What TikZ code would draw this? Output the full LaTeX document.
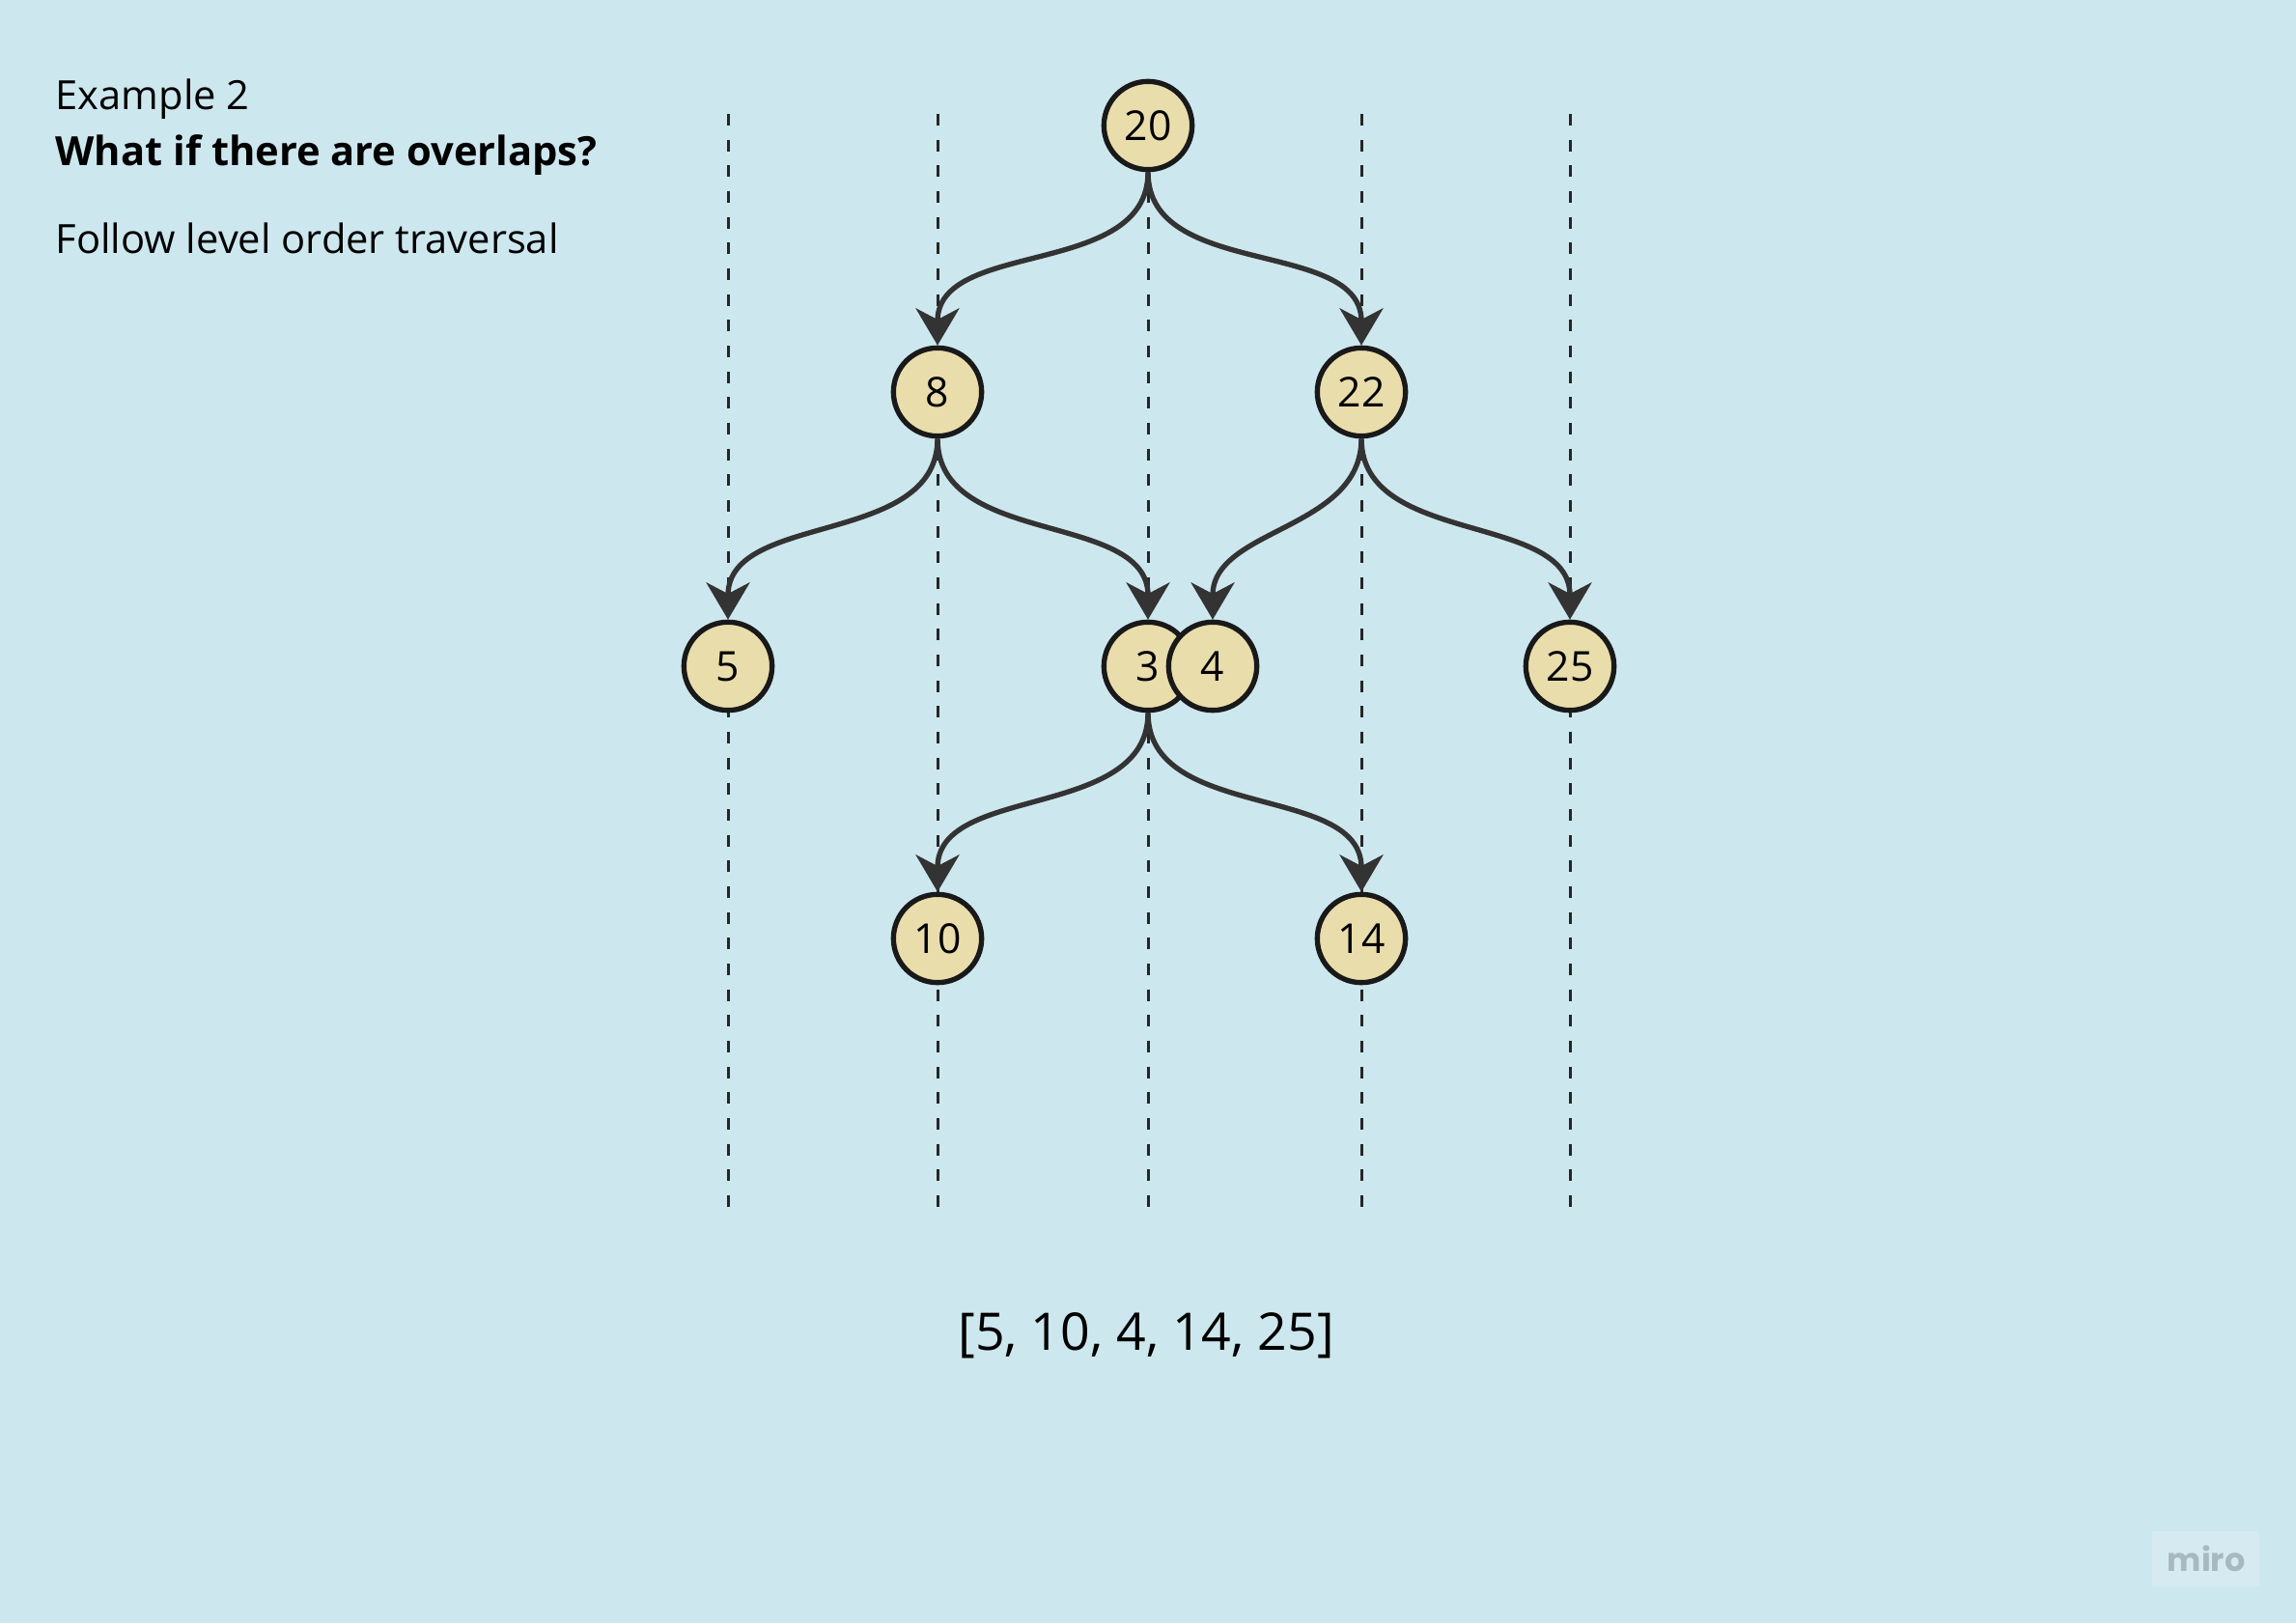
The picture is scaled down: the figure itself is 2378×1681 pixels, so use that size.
\documentclass[tikz,border=0pt]{standalone}
\usepackage{fontspec}
\setmainfont{Open Sans}
\newfontfamily\mirofont{Poppins}
\usetikzlibrary{arrows.meta,positioning}
\definecolor{bgblue}{HTML}{CDE7EE}
\definecolor{nodefill}{HTML}{E8DDAB}
\definecolor{edgegray}{HTML}{333333}
\definecolor{logobox}{HTML}{D5EBF1}
\definecolor{logotext}{HTML}{A8B8C0}
\tikzset{>={Stealth[length=11.5pt,width=13.5pt,inset=3.5pt]},
  treenode/.style={circle, draw=black!90, line width=1.6pt, fill=nodefill,
    minimum size=27.4pt, inner sep=0pt, font=\fontsize{12.8pt}{15pt}\selectfont},
  treeedge/.style={->, draw=edgegray, line width=1.6pt, out=-90, in=90},
  guide/.style={draw=black!85, line width=0.9pt, dash pattern=on 3.6pt off 4.4pt},
  plaintext/.style={anchor=base west, inner sep=0pt, font=\fontsize{12.5pt}{15pt}\selectfont}
}
\begin{document}
\begin{tikzpicture}[x=0.3pt,y=-0.3pt]
            \fill[bgblue] (0,0) rectangle (2378,1681);
            \useasboundingbox (0,0) rectangle (2378,1681);

            \foreach \x in {754,971,1189,1410,1626}
            {
            \draw[guide] (\x,118) -- (\x,1251);
            }

            \node[plaintext] (title) at (57,114) {Example 2};
            \node[plaintext, font=\fontsize{12.5pt}{15pt}\selectfont\bfseries] (question) at (57,172) {What if there are overlaps?};
            \node[plaintext] (hint) at (57,262) {Follow level order traversal};

            \node[treenode] (n20) at (1189,130) {20};
            \node[treenode] (n8) at (971,406) {8};
            \node[treenode] (n22) at (1410,406) {22};
            \node[treenode] (n5) at (754,690) {5};
            \node[treenode] (n3) at (1189,690) {3};
            \node[treenode] (n4) at (1256,690) {4};
            \node[treenode] (n25) at (1626,690) {25};
            \node[treenode] (n10) at (971,972) {10};
            \node[treenode] (n14) at (1410,972) {14};

            \draw[treeedge] (n20) to (n8);
            \draw[treeedge] (n20) to (n22);
            \draw[treeedge] (n8) to (n5);
            \draw[treeedge] (n8) to (n3);
            \draw[treeedge] (n22) to (n4);
            \draw[treeedge] (n22) to (n25);
            \draw[treeedge] (n3) to (n10);
            \draw[treeedge] (n3) to (n14);

            \node[anchor=base, inner sep=0pt, font=\fontsize{16.1pt}{19pt}\selectfont] (result) at (1187,1398) {[5, 10, 4, 14, 25]};

            % watermark
            \fill[logobox] (2229,1586) rectangle (2340,1643);
            \node[text=logotext, font=\mirofont\bfseries\fontsize{10pt}{12pt}\selectfont] (logo) at (2285,1614) {miro};
\end{tikzpicture}
\end{document}
